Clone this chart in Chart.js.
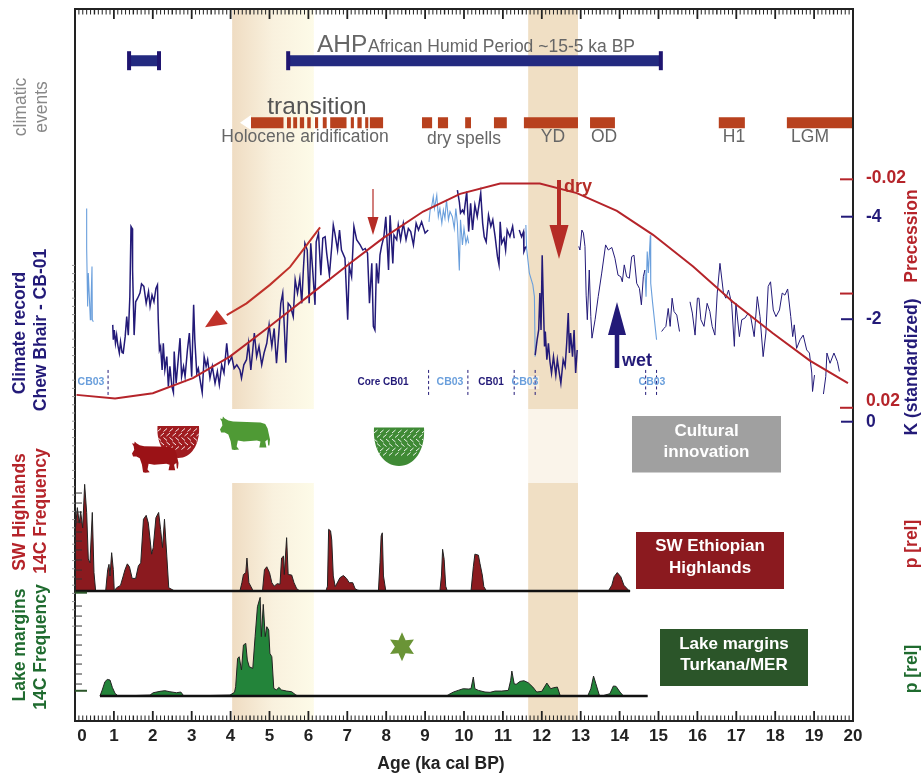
<!DOCTYPE html>
<html>
<head>
<meta charset="utf-8">
<title>Climate record and 14C frequency</title>
<script src="https://cdn.jsdelivr.net/npm/chart.js@4"></script>
<style>
  html, body { margin: 0; padding: 0; background: #fff; }
  canvas { display: block; }
</style>
</head>
<body>
<canvas id="myChart" width="921" height="776"></canvas>
<script>
// ages are ka cal BP, null splits a line into pieces
const cb03Young = [[.30,-4.16],[.30,-3.38],[.325,-2.25],[.342,-2.90],[.368,-2.44],[.394,-1.99],[.411,-2.31],[.437,-3.03],[.445,-1.99],[.471,-1.95]];

const cb01Old = [[.97,-1.89],[.985,-1.60],[1.01,-1.79],[1.04,-1.53],[1.07,-1.69],[1.10,-1.50],[1.14,-1.34],[1.17,-1.56],[1.21,-1.35],[1.24,-1.34],[1.29,-1.66],[1.33,-2.05],[1.37,-1.69],[1.41,-2.44],[1.44,-3.81],[1.47,-3.77],[1.48,-2.96],[1.52,-1.69],[1.56,-2.34],[1.61,-2.41],[1.67,-2.51],[1.71,-2.69],[1.77,-2.64],[1.83,-2.31],[1.89,-2.54],[1.93,-2.25],[1.98,-2.47],[2.03,-2.34],[2.08,-2.60],[2.12,-2.67],[2.14,-1.99],[2.17,-1.40],[2.20,-1.47],[2.24,-1.01],[2.27,-1.53],[2.31,-1.01],[2.36,-1.27],[2.40,-.69],[2.44,-1.08],[2.49,-.69],[2.53,-.57],[2.55,-1.37],[2.60,-.75],[2.66,-1.27],[2.70,-1.63],[2.74,-.88],[2.79,-1.08],[2.83,-.88],[2.89,-1.40],[2.94,-1.73],[3.00,-.88],[3.05,-2.28],[3.08,-1.60],[3.13,-.95],[3.17,-1.04],[3.23,-.75],[3.27,-.57],[3.32,-1.27],[3.37,-1.08],[3.41,-1.21],[3.47,-.85],[3.53,-1.08],[3.60,-.75],[3.66,-.98],[3.71,-.72],[3.77,-1.11],[3.83,-.95],[3.90,-1.53],[3.95,-1.14],[4.03,-1.27],[4.09,-1.04],[4.16,-1.11],[4.24,-1.01],[4.28,-.85],[4.34,-1.11],[4.41,-1.21],[4.46,-1.53],[4.52,-1.01],[4.57,-1.40],[4.61,-1.73],[4.67,-1.27],[4.73,-1.47],[4.80,-1.11],[4.86,-1.34],[4.93,-1.53],[4.99,-1.89],[5.06,-1.47],[5.12,-1.82],[5.18,-1.14],[5.24,-1.73],[5.29,-2.31],[5.34,-2.51],[5.38,-1.86],[5.42,-1.15],[5.48,-2.31],[5.54,-2.25],[5.61,-2.05],[5.66,-2.77],[5.72,-2.51],[5.78,-2.80],[5.83,-2.31],[5.87,-2.96],[5.91,-3.48],[5.97,-3.35],[6.02,-2.31],[6.06,-3.48],[6.11,-2.96],[6.17,-2.28],[6.20,-3.51],[6.26,-3.68],[6.32,-2.86],[6.37,-3.58],[6.43,-3.61],[6.47,-3.29],[6.54,-2.86],[6.60,-3.42],[6.64,-3.84],[6.68,-3.68],[6.75,-3.35],[6.80,-3.74],[6.85,-3.35],[6.94,-3.19],[7.01,-1.99],[7.05,-3.03],[7.11,-2.83],[7.17,-3.81],[7.24,-3.55],[7.33,-3.45],[7.40,-3.35],[7.46,-3.38],[7.52,-3.29],[7.57,-2.31],[7.63,-3.09],[7.67,-1.86],[7.71,-1.79],[7.75,-3.09],[7.80,-2.70],[7.84,-3.25],[7.88,-3.42],[7.94,-3.61],[7.99,-4.00],[8.06,-2.96],[8.10,-4.03],[8.17,-3.09],[8.20,-3.64],[8.27,-3.55],[8.31,-3.84],[8.37,-3.55],[8.44,-3.87],[8.51,-3.55],[8.57,-3.77],[8.63,-3.71],[8.70,-3.45],[8.77,-3.87],[8.83,-3.74],[8.91,-3.90],[9.00,-3.68],[9.08,-3.74],
  null,
  [9.83,-4.52],[9.88,-4.29],[9.91,-4.07],[9.96,-4.13],[10.0,-4.07],[10.07,-4.49],[10.12,-3.71],[10.17,-4.26],[10.22,-3.74],[10.28,-4.23],[10.34,-4.0],[10.43,-4.46],[10.48,-3.87],[10.52,-3.61],[10.57,-3.51],[10.63,-4.03],[10.69,-3.81],[10.74,-3.94],[10.80,-3.61],[10.86,-3.22],[10.90,-3.06],[10.93,-3.90],[10.97,-3.48],[11.03,-3.58],[11.07,-3.35],[11.11,-3.74],[11.18,-3.61],[11.25,-3.81],[11.29,-3.58],
  null,
  [11.42,-3.74],[11.48,-3.61],[11.53,-3.71],[11.54,-3.32],[11.59,-3.42],
  null,
  [11.83,-1.30],[11.88,-1.60],[11.92,-1.79],[11.95,-2.51],[11.98,-1.79],[12.01,-3.25],[12.04,-2.31],[12.07,-1.47],[12.09,-1.76],[12.13,-1.21],[12.17,-1.53],[12.21,-1.17],[12.25,-.95],[12.30,-1.27],[12.36,-.91],[12.40,-1.21],[12.45,-.95],[12.49,-.75],[12.55,-1.21],[12.60,-1.08],[12.64,-1.53],[12.68,-2.12],[12.71,-1.34],[12.74,-1.73],[12.79,-1.27],[12.83,-1.79],[12.87,-.95],[12.91,-1.40]];

const cb03Mid = [[9.10,-3.90],[9.13,-4.13],[9.17,-4.20],[9.21,-4.39],[9.24,-4.16],[9.30,-4.42],[9.34,-4.0],[9.38,-4.16],[9.43,-3.87],[9.47,-4.13],[9.51,-3.97],[9.55,-4.33],[9.60,-3.94],[9.64,-4.10],[9.70,-4.0],[9.75,-3.77],[9.79,-4.16],[9.83,-3.87],[9.88,-2.95],[9.91,-3.94],[9.96,-3.45],[10.0,-3.77],[10.05,-3.48],[10.09,-3.61],[10.12,-3.48],
  null,
  [11.59,-3.84],[11.61,-3.38],[11.68,-2.90],[11.77,-2.67],[11.81,-2.44],[11.83,-1.27],
  null,
  [14.65,-2.96],[14.68,-2.44],[14.71,-3.32],[14.74,-2.90],[14.79,-3.64],[14.80,-2.70],[14.85,-2.31],[14.95,-1.60]];

const cb01Late = [[12.95,-3.42],[12.98,-3.35],[13.03,-3.74],[13.07,-3.68],[13.11,-3.42],[13.14,-2.47],[13.17,-1.99],[13.22,-2.96],[13.26,-2.05],[13.29,-1.63],[13.37,-1.99],[13.45,-2.44],[13.54,-2.90],[13.64,-3.45],[13.71,-3.35],[13.80,-3.40],[13.88,-3.19],[13.96,-2.86],[14.03,-2.83],[14.07,-2.73],[14.12,-3.06],[14.18,-2.83],[14.25,-2.80],[14.31,-3.22],[14.37,-3.25],[14.44,-2.70],[14.51,-2.60],[14.56,-2.28],[14.61,-2.83],[14.65,-2.96],
  null,
  [15.08,-1.76],[15.14,-1.82],[15.19,-1.86],[15.25,-2.21],[15.30,-1.86],[15.35,-2.41],[15.40,-2.15],[15.47,-2.08],[15.54,-1.76],
  null,
  [15.81,-2.34],[15.87,-2.12],[15.94,-1.69],[16.0,-2.41],[16.04,-2.41],[16.09,-1.99],[16.17,-1.86],[16.25,-2.31],[16.32,-2.15],[16.38,-1.86],[16.45,-1.69],[16.51,-2.51],[16.58,-3.09],[16.67,-2.51],[16.73,-2.41],[16.80,-2.57],[16.88,-2.31],[16.95,-1.47],[16.99,-2.31],[17.08,-1.66],[17.14,-1.99],[17.22,-2.02],[17.31,-2.12],[17.37,-2.05],[17.46,-1.66],[17.54,-2.44],[17.61,-2.05],[17.69,-1.27],[17.76,-1.73],[17.82,-2.64],[17.88,-2.73],[17.95,-2.18],[18.02,-2.05],[18.11,-2.18],[18.18,-2.51],[18.25,-2.47],[18.32,-2.59],[18.40,-2.05],[18.45,-1.66],[18.49,-1.89],[18.55,-1.43],[18.64,-1.60],[18.72,-1.69],[18.81,-1.40],[18.88,-1.34],[18.94,-.95],[18.96,-.59],
  null,
  [18.96,-.59],[19.01,-.91],
  null,
  [19.24,-.54],[19.30,-.88],[19.33,-1.34],[19.41,-1.14],[19.51,-1.34],[19.60,-1.17],[19.65,-.98]];

const precession = [[.04,.01774],[1.03,.01839],[2.0,.01744],[3.03,.01482],[3.98,.01103],[5.0,.00578],[6.04,.00023],[7.07,-.00532],[7.92,-.0097],[8.95,-.01436],[9.9,-.01746],[10.93,-.01926],[11.95,-.01926],[12.9,-.01758],[13.93,-.01448],[14.86,-.01028],[15.89,-.00473],[16.9,.0014],[17.94,.00694],[18.89,.01173],[19.87,.01569]];

const swHighlands = [[0,0],[.01,.64],[.06,.86],[.11,.70],[.145,.82],[.197,.65],[.248,1.10],[.30,.81],[.342,.33],[.385,.29],[.445,.81],[.488,.19],[.531,0],
  [.788,0],[.84,.22],[.874,.275],[.90,.155],[.942,.395],[.985,.22],[1.01,0],[1.07,.034],[1.17,.058],[1.24,.155],[1.285,.22],[1.345,.28],[1.40,.25],[1.47,.13],[1.56,.13],[1.63,.26],[1.69,.29],[1.76,.74],[1.83,.78],[1.885,.70],[1.97,.38],[2.01,.447],[2.08,.756],[2.15,.81],[2.20,.636],[2.25,.447],[2.30,.74],[2.36,.36],[2.41,.034],[2.53,.007],[2.6,0],
  [4.24,0],[4.29,.086],[4.33,.17],[4.39,.19],[4.42,.34],[4.47,.086],[4.56,.017],[4.6,0],
  [4.82,0],[4.87,.22],[4.93,.25],[5.0,.19],[5.06,.086],[5.12,.05],[5.20,.076],[5.27,.07],[5.31,.34],[5.36,.36],[5.38,.17],[5.44,.55],[5.48,.17],[5.57,.165],[5.63,.086],[5.70,.024],[5.78,0],
  [6.45,0],[6.49,.05],[6.52,.636],[6.57,.62],[6.60,.526],[6.64,.155],[6.69,.045],[6.81,.137],[6.90,.16],[6.98,.13],[7.05,.086],[7.14,.086],[7.20,.024],[7.26,.01],[7.35,0],
  [7.80,0],[7.84,.29],[7.87,.567],[7.90,.60],[7.93,.155],[7.99,0],
  [9.38,0],[9.42,.155],[9.45,.43],[9.49,.326],[9.53,.05],[9.57,0],
  [10.18,0],[10.24,.25],[10.28,.38],[10.37,.37],[10.41,.285],[10.47,.165],[10.51,.045],[10.58,0],
  [13.71,0],[13.80,.06],[13.86,.148],[13.94,.19],[14.03,.148],[14.11,.06],[14.25,0],[14.27,0]];

const lakeMargins = [[.642,0],[.70,.062],[.77,.147],[.83,.17],[.90,.164],[.96,.089],[1.03,.027],[1.11,0],
  [1.93,.01],[2.01,.034],[2.185,.048],[2.31,.055],[2.44,.044],[2.61,.034],[2.72,.041],[2.80,0],
  [3.985,.01],[4.10,.038],[4.13,.096],[4.18,.386],[4.22,.403],[4.28,.267],[4.33,.523],[4.39,.54],[4.43,.369],[4.48,.30],[4.57,.284],[4.63,.609],[4.69,.916],[4.76,1.012],[4.79,.609],[4.84,.94],[4.89,.609],[4.93,.711],[4.98,.677],[5.01,.438],[5.06,.403],[5.11,.079],[5.18,.062],[5.24,.089],[5.31,.062],[5.44,.051],[5.57,.044],[5.68,.01],[5.74,0],
  [9.55,0],[9.60,.014],[9.73,.041],[9.85,.058],[9.98,.075],[10.11,.072],[10.18,.075],[10.24,.195],[10.28,.075],[10.37,.058],[10.54,.041],[10.67,.038],[10.80,.051],[10.97,.051],[11.14,.058],[11.20,.161],[11.23,.256],[11.29,.126],[11.34,.12],[11.44,.15],[11.54,.157],[11.65,.137],[11.77,.092],[11.87,.041],[12.0,.048],[12.13,.133],[12.23,.075],[12.30,.085],[12.40,.092],[12.47,.007],[12.51,0],
  [13.18,0],[13.26,.075],[13.33,.205],[13.39,.126],[13.48,.007],[13.54,0],
  [13.75,.024],[13.84,.103],[13.91,.099],[14.01,.041],[14.10,0],[14.72,0]];

const ahpBars = [[1.39,2.16],[5.48,15.06]];
const drySpells = [[4.52,5.36],[5.45,5.55],[5.61,5.71],[5.78,5.89],[5.97,6.06],[6.17,6.25],[6.37,6.47],[6.56,6.98],[7.09,7.17],[7.26,7.37],[7.46,7.54],[7.58,7.92],[8.92,9.18],[9.33,9.59],[10.03,10.18],[10.77,11.1],[11.54,12.93],[13.24,13.88],[16.55,17.22],[18.3,20]];
const coreBreaks = [.85,9.09,10.10,11.29,11.83,14.67,14.95];
const sunkenArrow = [[6.30,-3.79],[5.96,-3.45],[5.53,-3.02],[5.01,-2.67],[4.41,-2.31],[3.90,-2.08]];

const ageTicks = [0,1,2,3,4,5,6,7,8,9,10,11,12,13,14,15,16,17,18,19,20];
const kTicks = [-4,-2,0];
const precTicks = [-.02,0,.02];
const swTicks = [.124,.216,.32,.423,.515,.608,.711,.814,.907,1.01];
const lakeTicks = [.123,.226,.328,.42,.523,.626,.718,.82,.923];

const FONT = '"Liberation Sans", Arial, sans-serif';
const NAVY = '#231a78', SKY = '#6a9fdc', RED = '#b5242a', DARKRED = '#8b1a1f', GREEN = '#23843a', DARKGREEN = '#2b5529', GREY = '#666';

function pts(list) {
  return list.map(p => p ? { x: p[0], y: p[1] } : { x: null, y: null });
}

// turns [from,to] pairs into one broken line on a fixed row
function rowLine(pairs, row) {
  const out = [];
  pairs.forEach(p => { out.push([p[0], row], [p[1], row], null); });
  return pts(out);
}

function lineSet(list, color, width, yAxisID, order, extra) {
  return Object.assign({
    data: list, borderColor: color, borderWidth: width, yAxisID: yAxisID, order: order,
    showLine: true, pointRadius: 0, spanGaps: false, tension: 0, fill: false
  }, extra || {});
}

function text(ctx, str, x, y, font, color, align) {
  ctx.font = font;
  ctx.fillStyle = color;
  ctx.textAlign = align || 'center';
  ctx.textBaseline = 'middle';
  ctx.fillText(str, x, y);
}

function vtext(ctx, str, x, y, font, color) {
  ctx.save();
  ctx.translate(x, y);
  ctx.rotate(-Math.PI / 2);
  text(ctx, str, 0, 0, font, color);
  ctx.restore();
}

function poly(ctx, points, color) {
  ctx.beginPath();
  points.forEach((p, i) => i ? ctx.lineTo(p[0], p[1]) : ctx.moveTo(p[0], p[1]));
  ctx.closePath();
  ctx.fillStyle = color;
  ctx.fill();
}

function cow(ctx, ox, oy, s, color) {
  const shape = [[5,0],[8,4],[14,8],[22,10],[45,11],[68,12],[76,15],[80,24],[84,46],[83,58],[81,58],[80,46],[76,50],[78,62],[72,62],[66,62],[68,50],[62,48],[40,50],[30,48],[28,60],[32,66],[24,67],[20,66],[18,50],[14,36],[8,32],[2,32],[0,26],[4,18],[3,10],[0,4],[4,5]];
  poly(ctx, shape.map(p => [ox + p[0] * s / 1.68, oy + p[1] * s / 2]), color);
}

function bowl(ctx, x0, y0, w, h, color) {
  const x1 = x0 + w, cx = x0 + w / 2;
  ctx.save();
  ctx.beginPath();
  ctx.moveTo(x0, y0);
  ctx.lineTo(x1, y0);
  ctx.bezierCurveTo(x1 + .03 * w, y0 + .6 * h, x1 - .2 * w, y0 + h, cx, y0 + h);
  ctx.bezierCurveTo(x0 + .2 * w, y0 + h, x0 - .03 * w, y0 + .6 * h, x0, y0);
  ctx.closePath();
  ctx.fillStyle = color;
  ctx.fill();
  ctx.clip();
  ctx.strokeStyle = '#fff';
  ctx.lineWidth = .9;
  const rows = Math.floor(h * .72 / 4.5);
  for (let r = 0; r < rows; r++) {
    const y = y0 + 2.5 + r * 4.5;
    const flip = r % 4 < 2;
    for (let x = x0 + (r % 2) * 3; x < x1; x += 6) {
      ctx.beginPath();
      ctx.moveTo(x, flip ? y + 3 : y);
      ctx.lineTo(x + 3.5, flip ? y : y + 3);
      ctx.stroke();
    }
  }
  ctx.restore();
}

function downArrow(ctx, x, y0, y1, y2, halfHead, shaft, color) {
  // shaft from y0 to y1, head from y1 to y2, works both ways up
  ctx.fillStyle = color;
  ctx.fillRect(x - shaft / 2, Math.min(y0, y1), shaft, Math.abs(y1 - y0));
  poly(ctx, [[x - halfHead, y1], [x + halfHead, y1], [x, y2]], color);
}

const backdrop = {
  id: 'backdrop',
  beforeDatasetsDraw(chart) {
    const ctx = chart.ctx, x = chart.scales.x, a = chart.chartArea;
    const b0 = x.getPixelForValue(4.04), b1 = x.getPixelForValue(6.14);
    const g = ctx.createLinearGradient(b0, 0, b1, 0);
    g.addColorStop(0, '#efdcc2');
    g.addColorStop(.5, '#f9f1de');
    g.addColorStop(1, '#fdfbe8');
    ctx.fillStyle = g;
    ctx.fillRect(b0, a.top, b1 - b0, 409 - a.top);
    ctx.fillRect(b0, 483, b1 - b0, a.bottom - 483);
    const y0 = x.getPixelForValue(11.65), y1 = x.getPixelForValue(12.93);
    ctx.fillStyle = '#f0dfc4';
    ctx.fillRect(y0, a.top, y1 - y0, 409 - a.top);
    ctx.fillRect(y0, 483, y1 - y0, a.bottom - 483);
    ctx.fillStyle = '#faf4ea';
    ctx.fillRect(y0, 409, y1 - y0, 74);
    ctx.fillStyle = '#f8efe0';
    ctx.fillRect(x.getPixelForValue(11.65), 376, 11, 13);
  }
};

const overlay = {
  id: 'overlay',
  afterDraw(chart) {
    const ctx = chart.ctx, s = chart.scales, a = chart.chartArea, x = s.x;
    ctx.save();

    // frame
    ctx.strokeStyle = '#222';
    ctx.lineWidth = 2;
    ctx.strokeRect(a.left, a.top, a.right - a.left, a.bottom - a.top);

    // age ticks, top and bottom
    for (let i = 0; i <= 200; i++) {
      const px = x.getPixelForValue(i / 10), major = i % 10 === 0;
      ctx.strokeStyle = '#222';
      ctx.lineWidth = major ? 1.8 : (i % 5 === 0 ? 1.4 : 1);
      const len = major ? 10 : 5.5;
      ctx.beginPath();
      ctx.moveTo(px, a.top);
      ctx.lineTo(px, a.top + len);
      ctx.moveTo(px, a.bottom);
      ctx.lineTo(px, a.bottom - len);
      ctx.stroke();
    }

    // small ticks outside the left spine
    ctx.strokeStyle = '#999';
    ctx.lineWidth = 1;
    for (let k = -3.05; k < 4; k += .16) {
      const py = s.k.getPixelForValue(k);
      ctx.beginPath();
      ctx.moveTo(a.left - 3, py);
      ctx.lineTo(a.left, py);
      ctx.stroke();
    }

    // frequency ticks
    ctx.strokeStyle = '#333';
    ctx.lineWidth = 1;
    swTicks.forEach(t => {
      const py = s.sw.getPixelForValue(t);
      ctx.beginPath(); ctx.moveTo(a.left, py); ctx.lineTo(a.left + 7, py); ctx.stroke();
    });
    lakeTicks.forEach(t => {
      const py = s.lake.getPixelForValue(t);
      ctx.beginPath(); ctx.moveTo(a.left, py); ctx.lineTo(a.left + 7, py); ctx.stroke();
    });
    ctx.strokeStyle = DARKGREEN;
    ctx.lineWidth = 2;
    [1.06, .054].forEach(t => {
      const py = s.lake.getPixelForValue(t);
      ctx.beginPath(); ctx.moveTo(a.left, py); ctx.lineTo(a.left + 12, py); ctx.stroke();
    });

    // right hand ticks and numbers
    ctx.lineWidth = 2;
    precTicks.forEach(t => {
      const py = s.prec.getPixelForValue(t);
      ctx.strokeStyle = RED;
      ctx.beginPath(); ctx.moveTo(a.right - 13, py); ctx.lineTo(a.right, py); ctx.stroke();
      if (t !== 0) text(ctx, String(t), 866, t < 0 ? py - 1.5 : py - 7, 'bold 17.5px ' + FONT, RED, 'left');
    });
    kTicks.forEach(t => {
      const py = s.k.getPixelForValue(t);
      ctx.strokeStyle = NAVY;
      ctx.beginPath(); ctx.moveTo(a.right - 12, py); ctx.lineTo(a.right, py); ctx.stroke();
      text(ctx, String(t), 866, py, 'bold 17.5px ' + FONT, NAVY, 'left');
    });

    // event labels
    const big = '24.5px ' + FONT, mid = '17.5px ' + FONT;
    text(ctx, 'AHP', 317, 45, big, GREY, 'left');
    text(ctx, 'African Humid Period ~15-5 ka BP', 368, 47, mid, GREY, 'left');
    text(ctx, 'transition', 317, 107, big, '#555');
    text(ctx, 'Holocene aridification', 305, 137, mid, GREY);
    text(ctx, 'dry spells', 464, 139, mid, GREY);
    text(ctx, 'YD', 553, 137, mid, GREY);
    text(ctx, 'OD', 604, 137, mid, GREY);
    text(ctx, 'H1', 734, 137, mid, GREY);
    text(ctx, 'LGM', 810, 137, mid, GREY);

    // white head of the aridification arrow
    poly(ctx, [[240, 122.7], [251, 115], [251, 130]], '#fff');

    // core labels
    const small = 'bold 10.5px ' + FONT;
    text(ctx, 'CB03', 91, 382, small, SKY);
    text(ctx, 'Core CB01', 383, 382, 'bold 10px ' + FONT, NAVY);
    text(ctx, 'CB03', 450, 382, small, SKY);
    text(ctx, 'CB01', 491, 382, 'bold 10px ' + FONT, NAVY);
    text(ctx, 'CB03', 525, 382, small, SKY);
    text(ctx, 'CB03', 652, 382, small, SKY);

    // arrows
    downArrow(ctx, 559, 180, 225, 259, 9.5, 4, '#b52c26');
    downArrow(ctx, 617, 368, 335, 302, 9, 4.5, NAVY);
    downArrow(ctx, 373, 189, 217, 235, 5.5, 1.2, '#b52c26');
    poly(ctx, [[205, 327.3], [216.7, 310], [227.7, 324]], '#c0322a');
    text(ctx, 'dry', 564, 187, 'bold 18px ' + FONT, '#b52c26', 'left');
    text(ctx, 'wet', 622, 361, 'bold 18px ' + FONT, NAVY, 'left');

    // cultural icons
    bowl(ctx, 157.5, 426, 41.5, 32, '#a01c20');
    cow(ctx, 132, 441.5, .93, '#9b1216');
    cow(ctx, 220, 416.5, 1, '#4f9a35');
    bowl(ctx, 374, 427.5, 50, 38.5, '#3f8a35');

    // six pointed star
    const star = [];
    for (let i = 0; i < 12; i++) {
      const r = i % 2 ? 7.5 : 14.5, t = i * Math.PI / 6 - Math.PI / 2;
      star.push([402 + r * Math.cos(t) * .95, 646.7 + r * Math.sin(t)]);
    }
    poly(ctx, star, '#6a9436');

    // region boxes
    const boxFont = 'bold 17px ' + FONT;
    ctx.fillStyle = '#a0a0a0';
    ctx.fillRect(632, 416, 149, 56.5);
    text(ctx, 'Cultural', 706.5, 431, boxFont, '#fff');
    text(ctx, 'innovation', 706.5, 452, boxFont, '#fff');
    ctx.fillStyle = DARKRED;
    ctx.fillRect(636, 532, 148, 57);
    text(ctx, 'SW Ethiopian', 710, 546, boxFont, '#fff');
    text(ctx, 'Highlands', 710, 568, boxFont, '#fff');
    ctx.fillStyle = DARKGREEN;
    ctx.fillRect(660, 629, 148, 57);
    text(ctx, 'Lake margins', 734, 644, boxFont, '#fff');
    text(ctx, 'Turkana/MER', 734, 665, boxFont, '#fff');

    // side titles
    const side = 'bold 17.5px ' + FONT;
    vtext(ctx, 'climatic', 21, 107, '17.5px ' + FONT, '#888');
    vtext(ctx, 'events', 42, 107, '17.5px ' + FONT, '#888');
    vtext(ctx, 'Climate record', 20, 333, side, NAVY);
    vtext(ctx, 'Chew Bhair - CB-01', 41, 330, side, NAVY);
    vtext(ctx, 'SW Highlands', 20, 512, side, RED);
    vtext(ctx, '14C Frequency', 41, 511, side, RED);
    vtext(ctx, 'Lake margins', 20, 645, side, '#1f6b2f');
    vtext(ctx, '14C Frequency', 41, 647, side, '#1f6b2f');
    vtext(ctx, 'Precession', 912, 236, side, RED);
    vtext(ctx, 'K (standardized)', 912, 367, side, NAVY);
    vtext(ctx, 'p [rel]', 912, 544, side, RED);
    vtext(ctx, 'p [rel]', 912, 669, side, '#1f6b2f');

    text(ctx, 'Age (ka cal BP)', 441, 764, 'bold 17.5px ' + FONT, '#222');
    ctx.restore();
  }
};

const ctx = document.getElementById('myChart').getContext('2d');
new Chart(ctx, {
  type: 'scatter',
  data: {
    datasets: [
      lineSet(pts(precession), RED, 2, 'prec', 1),
      lineSet(pts(sunkenArrow), '#c0322a', 2, 'k', 1),
      lineSet(pts(cb01Old), NAVY, 1.5, 'k', 3),
      lineSet(pts(cb01Late), NAVY, 1, 'k', 3),
      lineSet(pts(cb03Young), SKY, 1.1, 'k', 2),
      lineSet(pts(cb03Mid), SKY, 1.1, 'k', 4),
      lineSet(pts(coreBreaks.flatMap(t => [[t, -1.01], [t, -.51], null])), NAVY, 1, 'k', 2, { borderDash: [3, 2.5] }),
      lineSet(rowLine(ahpBars, 1), '#232a80', 11, 'events', 5),
      lineSet(pts(ahpBars.flat().map(t => [t, 1])), '#1f1570', 0, 'events', 4, {
        showLine: false, pointStyle: 'line', rotation: 90, pointRadius: 9.5, pointBorderWidth: 4, pointBorderColor: '#1f1570'
      }),
      lineSet(rowLine(drySpells, 2), '#b8411e', 11, 'events', 5),
      lineSet(pts(swHighlands), '#222', 1, 'sw', 7, { fill: 'origin', backgroundColor: DARKRED }),
      lineSet(pts([[0, 0], [14.27, 0]]), '#111', 2.4, 'sw', 6),
      lineSet(pts(lakeMargins), '#222', 1, 'lake', 7, { fill: 'origin', backgroundColor: GREEN }),
      lineSet(pts([[.642, 0], [14.72, 0]]), '#111', 2.4, 'lake', 6)
    ]
  },
  options: {
    responsive: false,
    animation: false,
    layout: { autoPadding: false, padding: { left: 75, right: 68, top: 9, bottom: 0 } },
    plugins: { legend: { display: false }, tooltip: { enabled: false } },
    scales: {
      x: {
        type: 'linear', min: 0, max: 20,
        afterBuildTicks(scale) { scale.ticks = ageTicks.map(v => ({ value: v })); },
        afterFit(scale) { scale.height = 55; },
        grid: { display: false, drawTicks: false },
        border: { display: false },
        ticks: {
          autoSkip: false, maxRotation: 0, padding: 5, labelOffset: 0,
          color: '#222', font: { family: FONT, size: 17, weight: 'bold' },
          callback: v => v === 0 ? '   0' : String(v)
        }
      },
      y: { display: false },
      k: { display: false, min: -8.053, max: 5.84, reverse: true },
      prec: { display: false, min: -.04982, max: .07484, reverse: true },
      events: { display: false, min: .166, max: 11.65, reverse: true },
      sw: { display: false, min: -1.34, max: 6.0 },
      lake: { display: false, min: -.256, max: 7.046 }
    }
  },
  plugins: [backdrop, overlay]
});
</script>
</body>
</html>
